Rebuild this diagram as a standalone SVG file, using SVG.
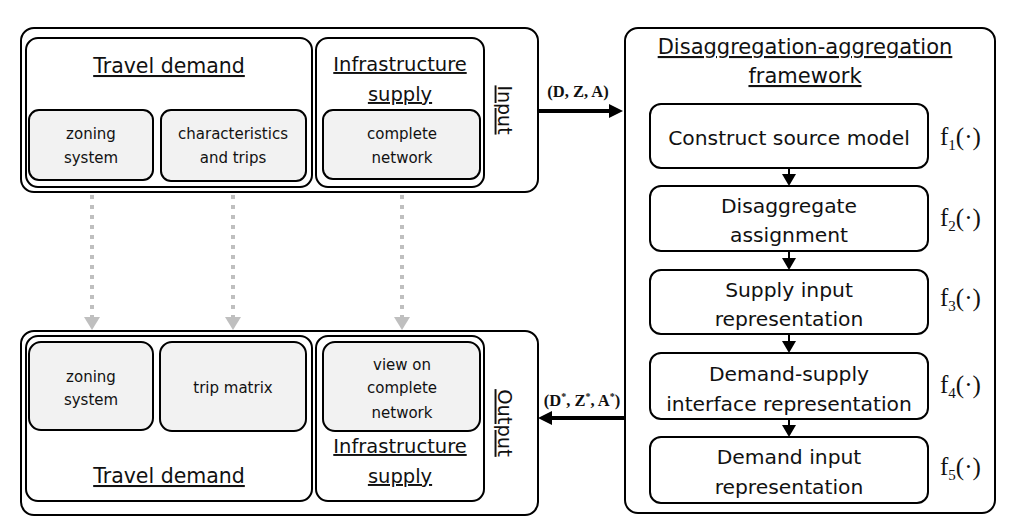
<svg xmlns="http://www.w3.org/2000/svg" width="1025" height="524" viewBox="0 0 1025 524">
<style>
.box{fill:#fff;stroke:#000;stroke-width:2}
.gbox{fill:#f2f2f2;stroke:#000;stroke-width:2}
.t{font-family:"DejaVu Sans",sans-serif;fill:#111;text-anchor:middle}
.h{font-size:20.5px;text-decoration:underline}
.hi{font-size:19.5px;text-decoration:underline}
.hf{font-size:21px;text-decoration:underline}
.s{font-size:15px}
.m{font-size:20.3px}
.math{font-family:"Liberation Serif",serif;fill:#111;text-anchor:middle}
.f{font-family:"Liberation Serif",serif;fill:#111;font-size:25px}
</style>
<defs>
<marker id="ab" markerUnits="userSpaceOnUse" markerWidth="14" markerHeight="16" refX="0" refY="8" orient="auto"><path d="M0,1 L14,8 L0,15 z" fill="#000"/></marker>
<marker id="as" markerUnits="userSpaceOnUse" markerWidth="12" markerHeight="14" refX="0" refY="7" orient="auto"><path d="M0,0 L12,7 L0,14 z" fill="#000"/></marker>
<marker id="ag" markerUnits="userSpaceOnUse" markerWidth="14" markerHeight="16" refX="0" refY="8" orient="auto"><path d="M0,0 L13,8 L0,16 z" fill="#bfbfbf"/></marker>
</defs>

<g id="input">
<rect class="box" x="21" y="28" width="517" height="164" rx="13"/>
<text class="t" x="503" y="110" font-size="19" text-decoration="underline" transform="rotate(90 503 110)" dominant-baseline="middle">Input</text>
</g>
<g id="input-travel-demand">
<rect class="box" x="26" y="38" width="286" height="149" rx="12"/>
<text class="t h" x="169" y="73">Travel demand</text>
</g>
<g id="input-zoning">
<rect class="gbox" x="29" y="110" width="124" height="70" rx="10"/>
<text class="t s" x="91" y="139">zoning</text>
<text class="t s" x="91" y="163">system</text>
</g>
<g id="input-characteristics">
<rect class="gbox" x="161" y="110" width="145" height="71" rx="10"/>
<text class="t s" x="233" y="139">characteristics</text>
<text class="t s" x="233" y="163">and trips</text>
</g>
<g id="input-infrastructure">
<rect class="box" x="316" y="38" width="168" height="149" rx="12"/>
<text class="t hi" x="400" y="71">Infrastructure</text>
<text class="t hi" x="400" y="101">supply</text>
</g>
<g id="input-network">
<rect class="gbox" x="323" y="110" width="157" height="69" rx="10"/>
<text class="t s" x="402" y="139">complete</text>
<text class="t s" x="402" y="163">network</text>
</g>

<g id="output">
<rect class="box" x="21" y="331" width="517" height="184" rx="13"/>
<text class="t" x="503" y="423" font-size="19.5" text-decoration="underline" transform="rotate(90 503 423)" dominant-baseline="middle">Output</text>
</g>
<g id="output-travel-demand">
<rect class="box" x="26" y="336" width="286" height="165" rx="12"/>
<text class="t h" x="169" y="483">Travel demand</text>
</g>
<g id="output-zoning">
<rect class="gbox" x="29" y="342" width="124" height="88" rx="12"/>
<text class="t s" x="91" y="382">zoning</text>
<text class="t s" x="91" y="405">system</text>
</g>
<g id="output-trip-matrix">
<rect class="gbox" x="160" y="342" width="146" height="89" rx="12"/>
<text class="t s" x="233" y="393">trip matrix</text>
</g>
<g id="output-infrastructure">
<rect class="box" x="316" y="336" width="168" height="165" rx="12"/>
<text class="t hi" x="400" y="453">Infrastructure</text>
<text class="t hi" x="400" y="483">supply</text>
</g>
<g id="output-network">
<rect class="gbox" x="323" y="342" width="157" height="89" rx="12"/>
<text class="t s" x="402" y="370">view on</text>
<text class="t s" x="402" y="393">complete</text>
<text class="t s" x="402" y="418">network</text>
</g>

<g id="framework">
<rect class="box" x="625" y="28" width="370" height="485" rx="13"/>
<text class="t hf" x="805" y="54">Disaggregation-aggregation</text>
<text class="t hf" x="805" y="83">framework</text>
</g>
<g id="step1">
<rect class="box" x="650" y="104" width="278" height="64" rx="11"/>
<text class="t m" x="789" y="145">Construct source model</text>
<text class="f" x="940" y="145">f<tspan font-size="15" dy="5">1</tspan><tspan dy="-5">(·)</tspan></text>
</g>
<g id="step2">
<rect class="box" x="650" y="186" width="278" height="65" rx="11"/>
<text class="t m" x="789" y="213">Disaggregate</text>
<text class="t m" x="789" y="242">assignment</text>
<text class="f" x="940" y="226">f<tspan font-size="15" dy="5">2</tspan><tspan dy="-5">(·)</tspan></text>
</g>
<g id="step3">
<rect class="box" x="650" y="270" width="278" height="64" rx="11"/>
<text class="t m" x="789" y="297">Supply input</text>
<text class="t m" x="789" y="326">representation</text>
<text class="f" x="940" y="306">f<tspan font-size="15" dy="5">3</tspan><tspan dy="-5">(·)</tspan></text>
</g>
<g id="step4">
<rect class="box" x="650" y="353" width="278" height="66" rx="11"/>
<text class="t m" x="789" y="381">Demand-supply</text>
<text class="t m" x="789" y="411">interface representation</text>
<text class="f" x="940" y="393">f<tspan font-size="15" dy="5">4</tspan><tspan dy="-5">(·)</tspan></text>
</g>
<g id="step5">
<rect class="box" x="650" y="437" width="278" height="66" rx="11"/>
<text class="t m" x="789" y="464">Demand input</text>
<text class="t m" x="789" y="494">representation</text>
<text class="f" x="940" y="475">f<tspan font-size="15" dy="5">5</tspan><tspan dy="-5">(·)</tspan></text>
</g>

<g id="connectors">
<g stroke="#bfbfbf" stroke-width="4" stroke-dasharray="4 6" fill="none">
<line x1="92" y1="195" x2="92" y2="317" marker-end="url(#ag)"/>
<line x1="233" y1="195" x2="233" y2="317" marker-end="url(#ag)"/>
<line x1="402" y1="195" x2="402" y2="317" marker-end="url(#ag)"/>
</g>
<g stroke="#000" stroke-width="4" fill="none">
<line x1="538" y1="111" x2="609" y2="111" marker-end="url(#ab)"/>
<line x1="624" y1="418" x2="552" y2="418" marker-end="url(#ab)"/>
</g>
<g stroke="#000" stroke-width="2" fill="none">
<line x1="789" y1="168" x2="789" y2="174" marker-end="url(#as)"/>
<line x1="789" y1="251" x2="789" y2="258" marker-end="url(#as)"/>
<line x1="789" y1="334" x2="789" y2="341" marker-end="url(#as)"/>
<line x1="789" y1="419" x2="789" y2="425" marker-end="url(#as)"/>
</g>
<text class="math" x="578" y="97" font-size="16.5" font-weight="bold">(D, Z, A)</text>
<text class="math" x="582" y="406" font-size="16.5" font-weight="bold">(D<tspan font-size="10" dy="-6">*</tspan><tspan dy="6">, Z</tspan><tspan font-size="10" dy="-6">*</tspan><tspan dy="6">, A</tspan><tspan font-size="10" dy="-6">*</tspan><tspan dy="6">)</tspan></text>
</g>
</svg>
